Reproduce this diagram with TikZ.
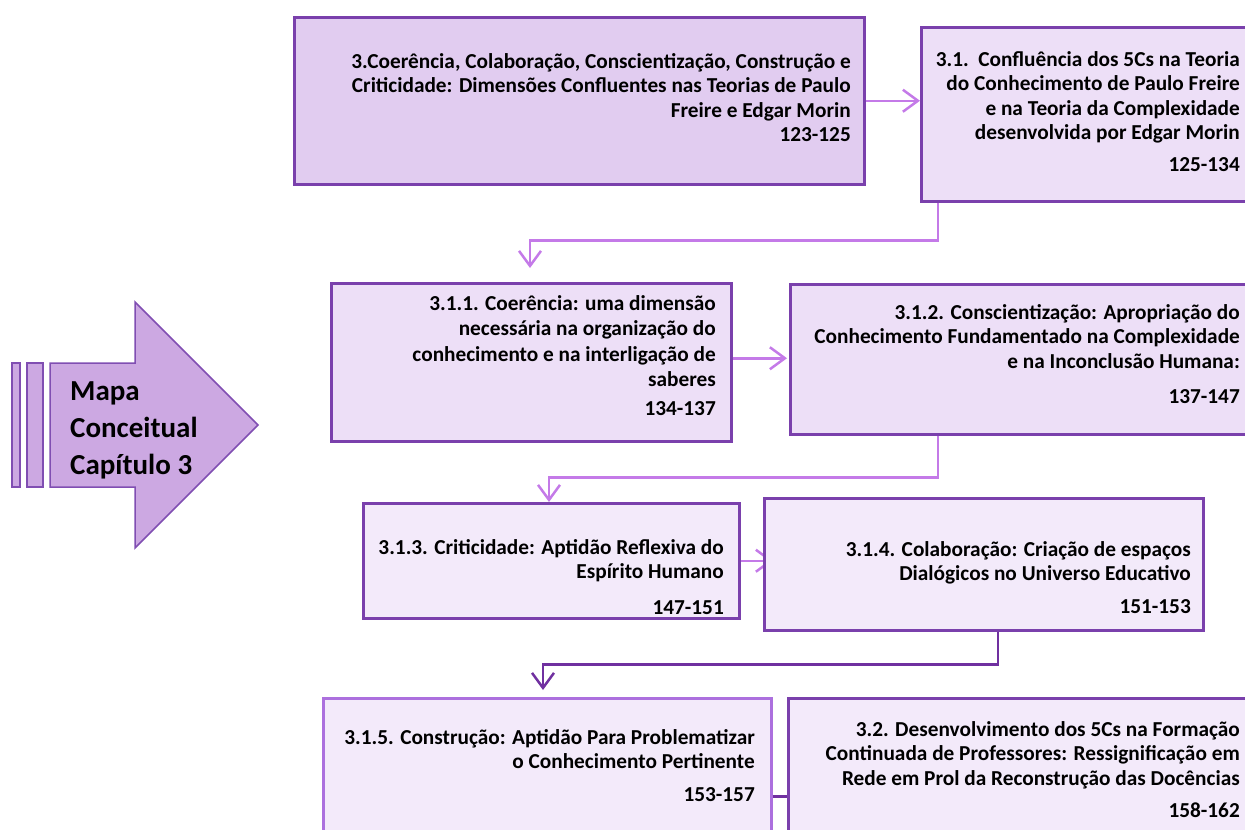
\documentclass[tikz,border=0pt]{standalone}
\usepackage{fontspec}
\setmainfont{Carlito}
\usetikzlibrary{arrows.meta,positioning,calc,backgrounds}
\definecolor{mapfill}{RGB}{204,168,226}
\definecolor{mapdraw}{RGB}{128,78,178}
\definecolor{boxdraw}{RGB}{122,64,172}
\definecolor{boxdrawlight}{RGB}{172,112,222}
\definecolor{fillA}{RGB}{225,204,240}
\definecolor{fillB}{RGB}{237,223,247}
\definecolor{fillC}{RGB}{243,234,250}
\definecolor{linklight}{RGB}{196,122,232}
\definecolor{linkdark}{RGB}{112,48,160}
\tikzset{
  basebox/.style={rectangle,draw=boxdraw,line width=2.5pt,inner sep=0pt,anchor=north west},
  topbox/.style={basebox,fill=fillA},
  midbox/.style={basebox,fill=fillB},
  lowbox/.style={basebox,fill=fillC},
  boxtext/.style={inner sep=0pt,align=right,anchor=north east,font=\fontsize{21.3}{24.5}\selectfont\bfseries},
  titletext/.style={inner sep=0pt,align=left,anchor=west,font=\fontsize{29}{37}\selectfont\bfseries},
  arr/.style={-{Straight Barb[length=15pt,width=22pt]},line width=2.5pt,color=linklight},
  darkarr/.style={arr,color=linkdark},
  darklink/.style={line width=2.5pt,color=linkdark}
}
\begin{document}
\begin{tikzpicture}[x=1pt,y=-1pt]
  \useasboundingbox (0,0) rectangle (1245,830);

  % chapter arrow
  \draw[fill=mapfill,draw=mapdraw,line width=1.5pt] (12,363) rectangle (20,487);
  \draw[fill=mapfill,draw=mapdraw,line width=1.5pt] (27,363) rectangle (43,487);
  \draw[fill=mapfill,draw=mapdraw,line width=1.5pt]
    (50,363) -- (135,363) -- (135,302) -- (258,425) -- (135,548) -- (135,487) -- (50,487) -- cycle;
  \node[titletext] (maptitle) at (70,430) {Mapa\\Conceitual\\Capítulo 3};

  % boxes
  \node[topbox,minimum width=570pt,minimum height=167pt] (a) at (293,16) {};
  \node[midbox,minimum width=333pt,minimum height=174pt] (b) at (920,26) {};
  \node[midbox,minimum width=400pt,minimum height=158pt] (c) at (330,282) {};
  \node[midbox,minimum width=464pt,minimum height=150pt] (d) at (789,283) {};
  \node[lowbox,minimum width=376pt,minimum height=115pt] (e) at (362,502) {};
  \node[lowbox,minimum width=439pt,minimum height=132pt] (f) at (763,497) {};
  \node[lowbox,draw=boxdrawlight,minimum width=448pt,minimum height=196pt] (g) at (322,697) {};
  \node[lowbox,minimum width=466pt,minimum height=196pt] (h) at (787,697) {};

  % box texts
  \node[boxtext] (a-txt) at (851,53)
    {3.Coerência, Colaboração, Conscientização, Construção e\\Criticidade: Dimensões Confluentes nas Teorias de Paulo\\Freire e Edgar Morin\\123-125};
  \node[boxtext] (b-txt) at (1240,51)
    {3.1.\ \ Confluência dos 5Cs na Teoria\\do Conhecimento de Paulo Freire\\e na Teoria da Complexidade\\desenvolvida por Edgar Morin\\[7pt]125-134};
  \node[boxtext,font=\fontsize{21.3}{25.5}\selectfont\bfseries] (c-txt) at (716,295)
    {3.1.1. Coerência: uma dimensão\\necessária na organização do\\conhecimento e na interligação de\\saberes\\[3pt]134-137};
  \node[boxtext] (d-txt) at (1240,304)
    {3.1.2. Conscientização: Apropriação do\\Conhecimento Fundamentado na Complexidade\\e na Inconclusão Humana:\\[11pt]137-147};
  \node[boxtext] (e-txt) at (724,539)
    {3.1.3. Criticidade: Aptidão Reflexiva do\\Espírito Humano\\[11pt]147-151};
  \node[boxtext] (f-txt) at (1191,541)
    {3.1.4. Colaboração: Criação de espaços\\Dialógicos no Universo Educativo\\[8pt]151-153};
  \node[boxtext] (g-txt) at (755,729)
    {3.1.5. Construção: Aptidão Para Problematizar\\o Conhecimento Pertinente\\[8pt]153-157};
  \node[boxtext] (h-txt) at (1240,721)
    {3.2. Desenvolvimento dos 5Cs na Formação\\Continuada de Professores: Ressignificação em\\Rede em Prol da Reconstrução das Docências\\[8pt]158-162};

  % connectors
  \draw[arr] (a.east) -- (a.east -| b.west);
  \draw[arr] ($(b.south west)+(18,0)$) -- ++(0,38) -| ($(c.north west)+(200,-14)$);
  \draw[arr] ($(c.east)+(0,-4)$) -- ($(c.east -| d.west)+(-2,-4)$);
  \draw[arr] ($(d.south west)+(149,0)$) -- ++(0,42) -| ($(e.north west)+(187,0)$);
  \begin{scope}[on background layer]
    \draw[arr] (e.east) -- ($(e.east -| f.west)+(10,0)$);
  \end{scope}
  \draw[darkarr] ($(f.south west)+(235,0)$) -- ++(0,33) -| ($(g.north west)+(221,-7)$);
  \draw[darklink] (g.east) -- (h.west);
\end{tikzpicture}
\end{document}
